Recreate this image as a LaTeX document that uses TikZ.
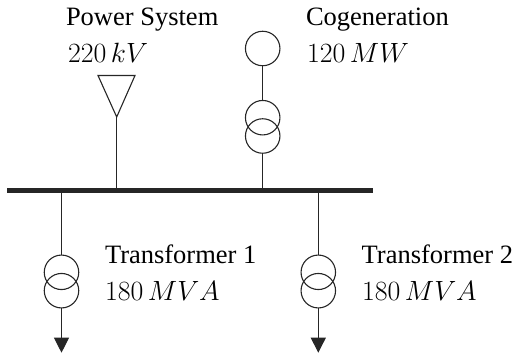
\documentclass[tikz,border=0pt]{standalone}
\usepackage[no-math]{fontspec}
\setmainfont{Liberation Serif}
\usetikzlibrary{arrows.meta}
\tikzset{
  x=1pt,y=-1pt,
  wire/.style={line width=1.1pt,draw=black!85},
  bus/.style={draw=none,fill=black!85,minimum width=366pt,minimum height=5pt,inner sep=0pt,outer sep=0pt},
  coil/.style={circle,draw=black!85,line width=1.1pt,minimum size=34.5pt,inner sep=0pt,outer sep=0pt},
  lbl/.style={anchor=base west,inner sep=0pt,outer sep=0pt,font=\fontsize{26.5}{30}\selectfont},
  mlbl/.style={anchor=base west,inner sep=0pt,outer sep=0pt,font=\fontsize{24.88}{30}\selectfont,scale=1.12},
  load/.style={wire,-{Triangle[length=15pt,width=15pt]},shorten >=0pt},
}
\begin{document}
\begin{tikzpicture}
\useasboundingbox (0,0) rectangle (515,356);
\node[bus] (B) at (190,190) {};
% power system
\coordinate (T1) at (98,75.5);
\coordinate (T2) at (135,75.5);
\coordinate (A) at (116.7,117);
\draw[wire,line join=miter] (T1) -- (T2) -- (A) -- cycle;
\draw[wire] (A) -- (A |- B.north);
% cogeneration
\node[coil] (G) at (262.7,48.5) {};
\node[coil] (CU) at (262.7,117.7) {};
\node[coil] (CL) at (262.7,136) {};
\draw[wire] (G) -- (CU);
\draw[wire] (CL) -- (CL |- B.north);
% transformer 1
\node[coil] (LU) at (61.5,272.3) {};
\node[coil] (LL) at (61.5,290.7) {};
\coordinate (LE) at (61.5,352.7);
\draw[wire] (LU |- B.south) -- (LU);
\draw[load] (LL) -- (LE);
% transformer 2
\node[coil] (RU) at (318.3,272.3) {};
\node[coil] (RL) at (318.3,290.7) {};
\coordinate (RE) at (318.3,352.7);
\draw[wire] (RU |- B.south) -- (RU);
\draw[load] (RL) -- (RE);
% labels
\node[lbl] (l1) at (66,26) {Power System};
\node[mlbl] (l2) at (68,63) {$220\,kV$};
\node[lbl] (l3) at (306,26) {Cogeneration};
\node[mlbl] (l4) at (307,63) {$120\,MW$};
\node[lbl] (l5) at (105,263) {Transformer 1};
\node[mlbl] (l6) at (105,300.7) {$180\,MVA$};
\node[lbl] (l7) at (361.7,263) {Transformer 2};
\node[mlbl] (l8) at (362,300.7) {$180\,MVA$};
\end{tikzpicture}
\end{document}
